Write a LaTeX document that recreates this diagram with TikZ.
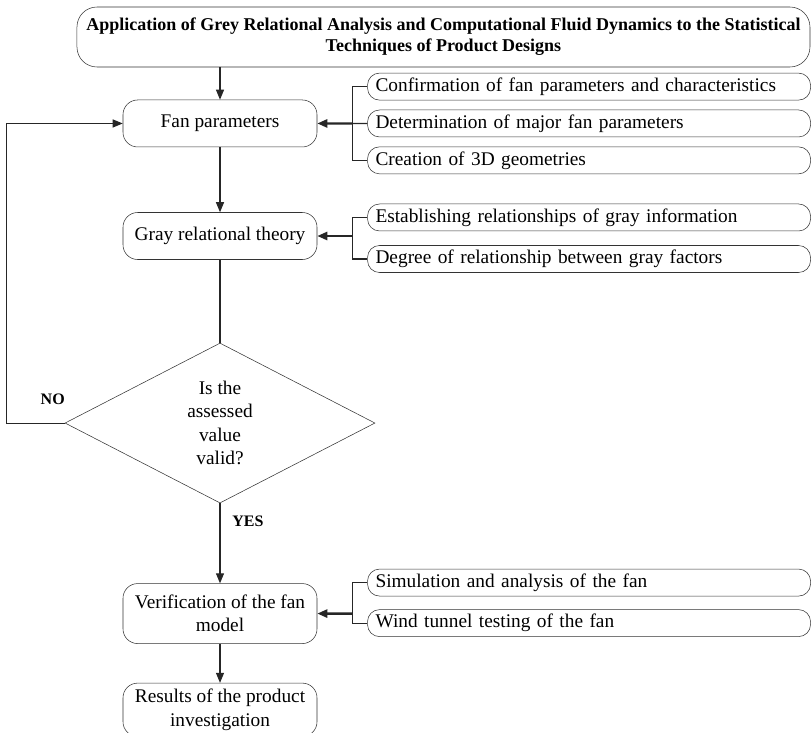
\documentclass[tikz,border=0pt]{standalone}
\usepackage{fontspec}
\setmainfont{Liberation Serif}
\usetikzlibrary{shapes.geometric, arrows.meta, positioning, calc}

\begin{document}
\begin{tikzpicture}[
    node distance=7pt and 37.5pt,
    font=\fontsize{14.5}{17.5}\selectfont,
    >={Triangle[length=7.5pt, width=6pt]},
    title/.style={rectangle, draw=black!80, rounded corners=15pt, align=center, minimum width=549.75pt, minimum height=45pt, inner sep=2pt, font=\fontsize{13.5}{15.75}\selectfont\bfseries},
    box/.style={rectangle, draw=black!80, rounded corners=11pt, align=center, minimum width=145.5pt, minimum height=35.25pt, inner sep=2pt},
    sidebox/.style={rectangle, draw=black!80, rounded corners=9pt, align=left, text width=320.25pt, inner xsep=6pt, inner ysep=2pt, minimum height=20.25pt},
    decision/.style={diamond, draw=black!80, aspect=1.94, minimum width=232.5pt, minimum height=120pt, inner sep=0pt, align=center},
    lbl/.style={font=\fontsize{12}{14}\selectfont\bfseries},
    line/.style={draw=black!85, line width=0.8pt, ->},
    feed/.style={draw=black!85, line width=1.8pt, ->},
    brace/.style={draw=black!85, line width=0.8pt}
]
\useasboundingbox (0,0) rectangle (609pt,-549pt);

% Main column
\node[title] (title) at (332.6pt,-27.75pt) {Application of Grey Relational Analysis and Computational Fluid Dynamics to the Statistical\\Techniques of Product Designs};
\node[box] (fan) at (165pt,-92.6pt) {Fan parameters};
\node[box, below=48.75pt of fan] (gray) {Gray relational theory};
\node[decision, below=62.25pt of gray] (dec) {Is the\\assessed\\value\\valid?};
\node[box, minimum height=45pt, below=60pt of dec] (verif) {Verification of the fan\\model};
\node[box, minimum height=40pt, below=29.25pt of verif] (res) {Results of the product\\investigation};

% Side boxes
\node[sidebox, right=of fan] (det) {Determination of major fan parameters};
\node[sidebox, above=of det] (conf) {Confirmation of fan parameters and characteristics};
\node[sidebox, below=of det] (geo) {Creation of 3D geometries};
\node[sidebox, right=of gray, yshift=13.9pt] (est) {Establishing relationships of gray information};
\node[sidebox, below=10.5pt of est] (deg) {Degree of relationship between gray factors};
\node[sidebox, right=of verif, yshift=23.25pt] (sim) {Simulation and analysis of the fan};
\node[sidebox, below=9.75pt of sim] (wind) {Wind tunnel testing of the fan};

% Branch points
\coordinate (fanbr) at ($(fan.east)!0.7!(det.west)$);
\coordinate (graybr) at ($(gray.east)!0.7!(gray.east -| est.west)$);
\coordinate (verifbr) at ($(verif.east)!0.7!(verif.east -| sim.west)$);

% Labels
\node[lbl, above=10pt of dec.west, xshift=-9pt] (no) {NO};
\node[lbl, below=6pt of dec.south, xshift=21pt] (yes) {YES};

% Edges
\draw[line] (title.south -| fan.north) -- (fan.north);
\draw[line] (fan) -- (gray);
\draw[brace] (gray) -- (dec);
\draw[line] (dec) -- (verif);
\draw[line] (verif) -- (res);
\draw[line] (dec.west) -- ++(-43.5pt,0) |- (fan.west);

% Brackets
\draw[brace] (conf.west) -| (fanbr) |- (geo.west);
\draw[brace] (det.west) -- (fanbr);
\draw[feed] (fanbr) -- (fan.east);
\draw[brace] (est.west) -| (graybr) |- (deg.west);
\draw[feed] (graybr) -- (gray.east);
\draw[brace] (sim.west) -| (verifbr) |- (wind.west);
\draw[feed] (verifbr) -- (verif.east);

\end{tikzpicture}
\end{document}
